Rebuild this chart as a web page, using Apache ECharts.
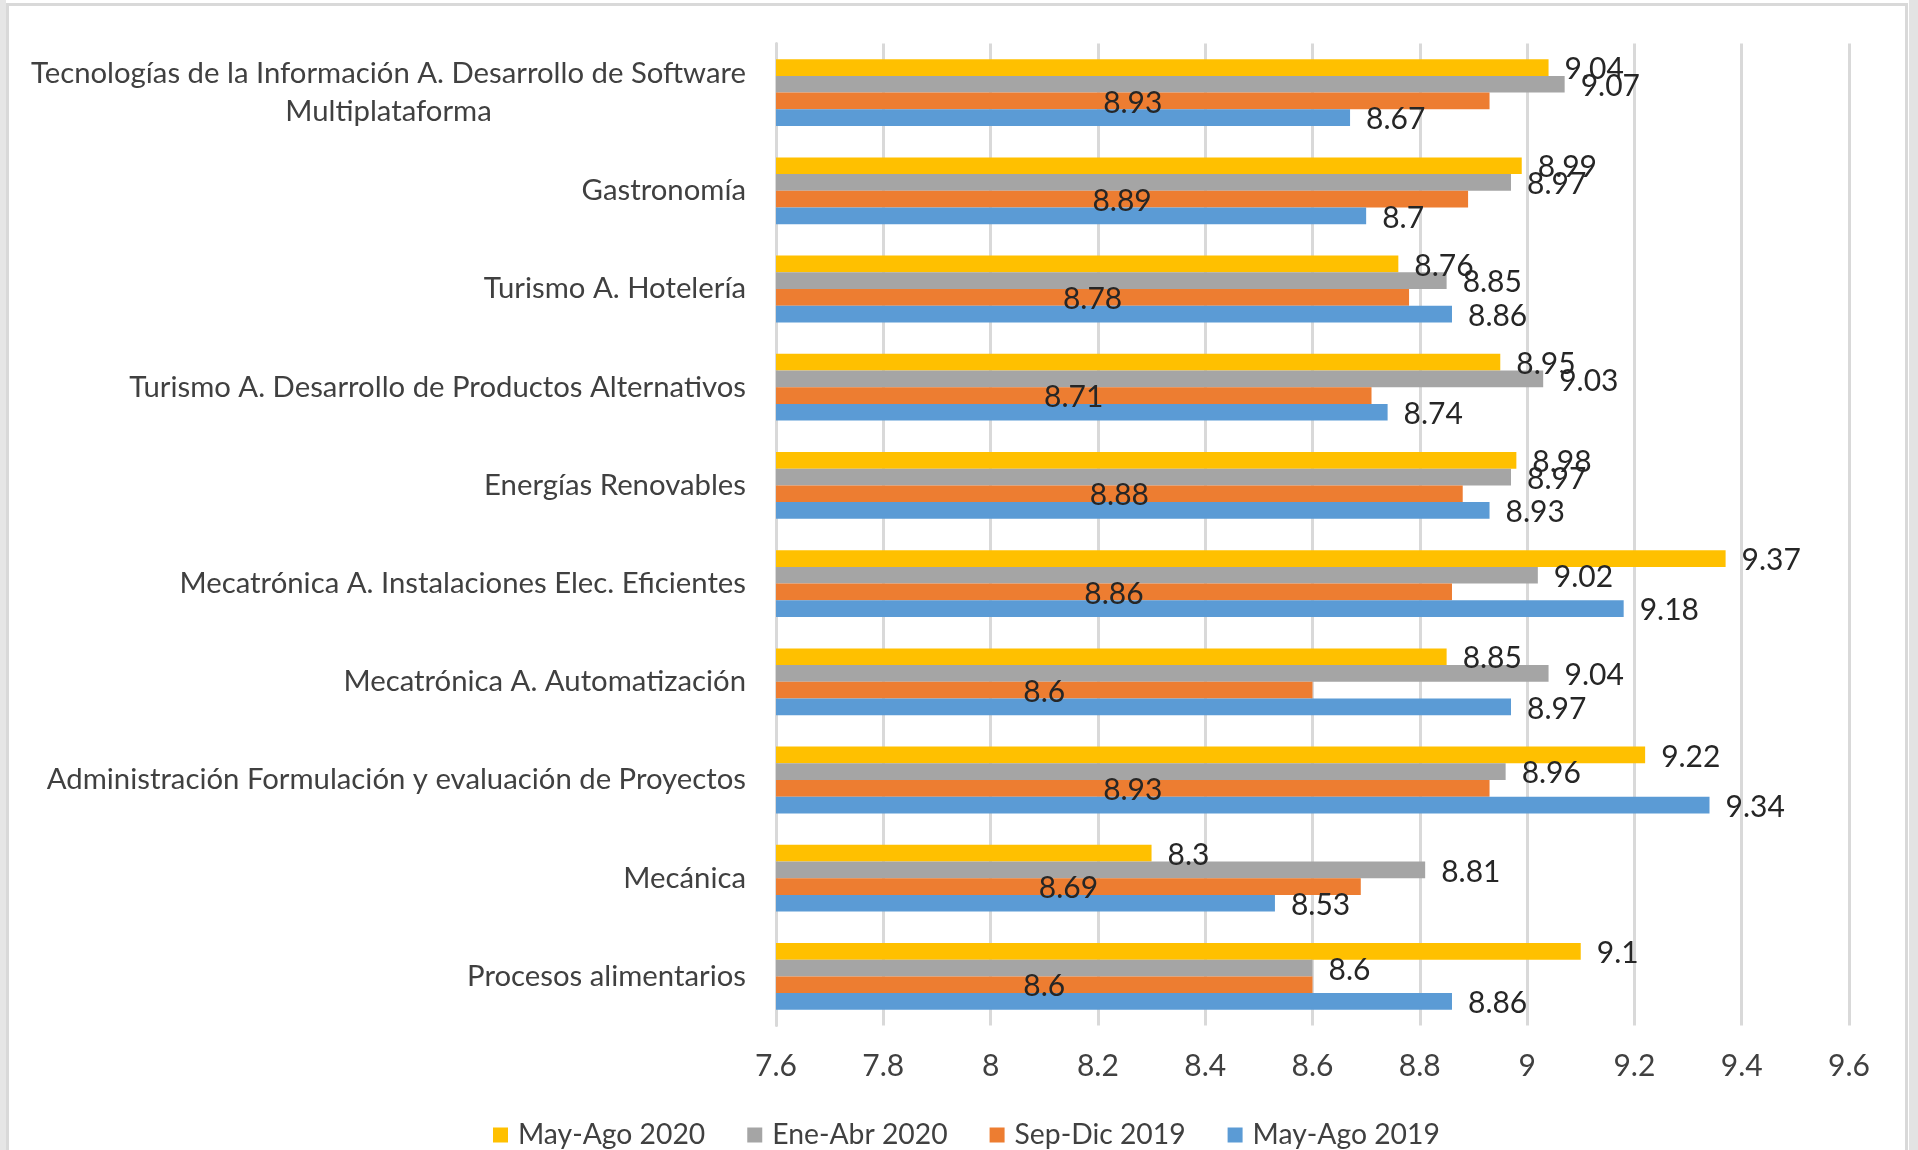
<!DOCTYPE html>
<html>
<head>
<meta charset="utf-8">
<title>Promedios por carrera</title>
<script src="https://cdn.jsdelivr.net/npm/echarts@6/dist/echarts.min.js"></script>
<style>
  html, body { margin: 0; padding: 0; background: #ffffff; }
  #chart { width: 1918px; height: 1150px; }
</style>
</head>
<body>
<div id="chart"></div>
<script>
// categories, top to bottom
const categories = [
  "Tecnologías de la Información A. Desarrollo de Software\nMultiplataforma",
  "Gastronomía",
  "Turismo A. Hotelería",
  "Turismo A. Desarrollo de Productos Alternativos",
  "Energías Renovables",
  "Mecatrónica A. Instalaciones Elec. Eficientes",
  "Mecatrónica A. Automatización",
  "Administración Formulación y evaluación de Proyectos",
  "Mecánica",
  "Procesos alimentarios"
];

const seriesNames = ["May-Ago 2020", "Ene-Abr 2020", "Sep-Dic 2019", "May-Ago 2019"];

const mayAgo2020 = [9.04, 8.99, 8.76, 8.95, 8.98, 9.37, 8.85, 9.22, 8.3, 9.1];
const eneAbr2020 = [9.07, 8.97, 8.85, 9.03, 8.97, 9.02, 9.04, 8.96, 8.81, 8.6];
const sepDic2019 = [8.93, 8.89, 8.78, 8.71, 8.88, 8.86, 8.6, 8.93, 8.69, 8.6];
const mayAgo2019 = [8.67, 8.7, 8.86, 8.74, 8.93, 9.18, 8.97, 9.34, 8.53, 8.86];

const xTicks = [7.6, 7.8, 8, 8.2, 8.4, 8.6, 8.8, 9, 9.2, 9.4, 9.6];

const colors = ["#FFC000", "#A5A5A5", "#ED7D31", "#5B9BD5"];
const FONT = "Lato";

let myChart = echarts.init(document.getElementById("chart"));

const outsideLabel = {
  show: true,
  position: "right",
  distance: 16,
  offset: [0, 2],
  fontFamily: FONT,
  fontSize: 30,
  color: "#262626"
};

const insideLabel = {
  show: true,
  position: "inside",
  offset: [0, 2],
  fontFamily: FONT,
  fontSize: 30,
  color: "#262626"
};

const seriesData = [mayAgo2020, eneAbr2020, sepDic2019, mayAgo2019];

const option = {
  animation: false,
  color: colors,
  grid: {
    left: 776,
    right: 69,
    top: 43.5,
    bottom: 124.5,
    containLabel: false,
    outerBoundsMode: "none"
  },
  legend: {
    left: 488,
    top: 1116,
    icon: "rect",
    itemWidth: 15,
    itemHeight: 15,
    itemGap: 42,
    textStyle: {
      fontFamily: FONT,
      fontSize: 28.3,
      color: "#404040",
      padding: [0, 0, 0, 5]
    },
    data: seriesNames
  },
  xAxis: {
    type: "value",
    min: xTicks[0],
    max: xTicks[xTicks.length - 1],
    interval: 0.2,
    axisLine: { show: false },
    axisTick: { show: false },
    splitLine: { show: true, lineStyle: { color: "#d9d9d9", width: 3 } },
    axisLabel: {
      fontFamily: FONT,
      fontSize: 30,
      color: "#404040",
      margin: 26,
      formatter: (v) => String(+v.toFixed(1))
    }
  },
  yAxis: {
    type: "category",
    inverse: true,
    data: categories,
    axisLine: { show: true, lineStyle: { color: "#d9d9d9", width: 3 } },
    axisTick: { show: false },
    splitLine: { show: false },
    axisLabel: {
      margin: 30,
      fontFamily: FONT,
      fontSize: 29.3,
      color: "#404040",
      formatter: (v) => v.split("\n").map((s) => "{c|" + s + "}").join("\n"),
      rich: {
        c: {
          align: "center",
          fontFamily: FONT,
          fontSize: 29.3,
          lineHeight: 38,
          color: "#404040"
        }
      }
    }
  },
  series: seriesNames.map((name, i) => ({
    name: name,
    type: "bar",
    data: seriesData[i],
    barGap: "0%",
    barCategoryGap: "32%",
    label: i === 2 ? insideLabel : outsideLabel
  })),
  graphic: [
    { type: "rect", shape: { x: 0, y: 0, width: 6, height: 1150 }, style: { fill: "#e6e6e6" }, silent: true },
    { type: "rect", shape: { x: 1909, y: 0, width: 9, height: 1150 }, style: { fill: "#e3e3e3" }, silent: true },
    {
      type: "rect",
      shape: { x: 7.5, y: 4.5, width: 1899, height: 1160 },
      style: { fill: null, stroke: "#d9d9d9", lineWidth: 3 },
      silent: true
    }
  ]
};

myChart.setOption(option);
</script>
</body>
</html>
